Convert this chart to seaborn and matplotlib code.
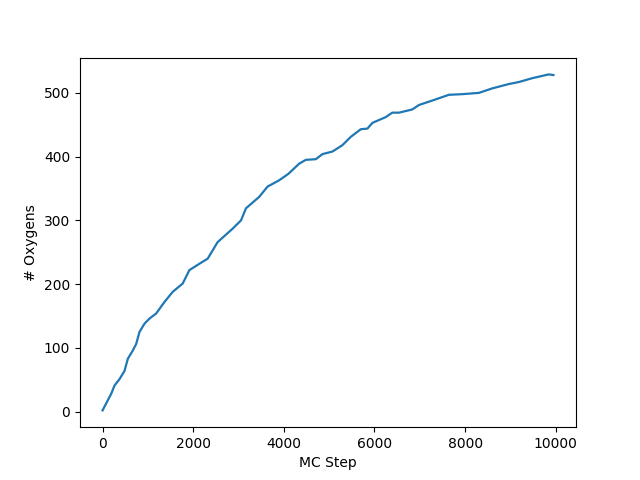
import matplotlib
matplotlib.use("Agg")
import matplotlib.pyplot as plt
import seaborn as sns
import pandas as pd

mc_step = [0, 117, 191, 264, 374, 485, 558, 668, 741, 815, 925, 1035, 1183, 1366,
           1549, 1769, 1916, 2137, 2320, 2540, 2870, 3055, 3165, 3458, 3641, 3899,
           4100, 4339, 4486, 4706, 4853, 5073, 5293, 5477, 5698, 5845, 5955, 6249,
           6394, 6542, 6835, 6982, 7276, 7643, 7937, 8304, 8597, 8971, 9185, 9479,
           9846, 9950]
oxygens = [2, 18, 28, 41, 51, 64, 83, 96, 106, 125, 138, 146, 154, 172,
           188, 201, 222, 232, 240, 266, 287, 300, 319, 337, 353, 363,
           373, 389, 395, 396, 404, 408, 418, 431, 443, 444, 453, 462,
           469, 469, 474, 481, 488, 497, 498, 500, 507, 514, 517, 523,
           529, 528]

df = pd.DataFrame({"MC Step": mc_step, "# Oxygens": oxygens})

fig, ax = plt.subplots(figsize=(6.4, 4.8), dpi=100)
sns.lineplot(data=df, x="MC Step", y="# Oxygens", ax=ax, color="#1f77b4", linewidth=1.6)
ax.set_xlabel("MC Step")
ax.set_ylabel("# Oxygens")
fig.savefig("out.png", dpi=100)
